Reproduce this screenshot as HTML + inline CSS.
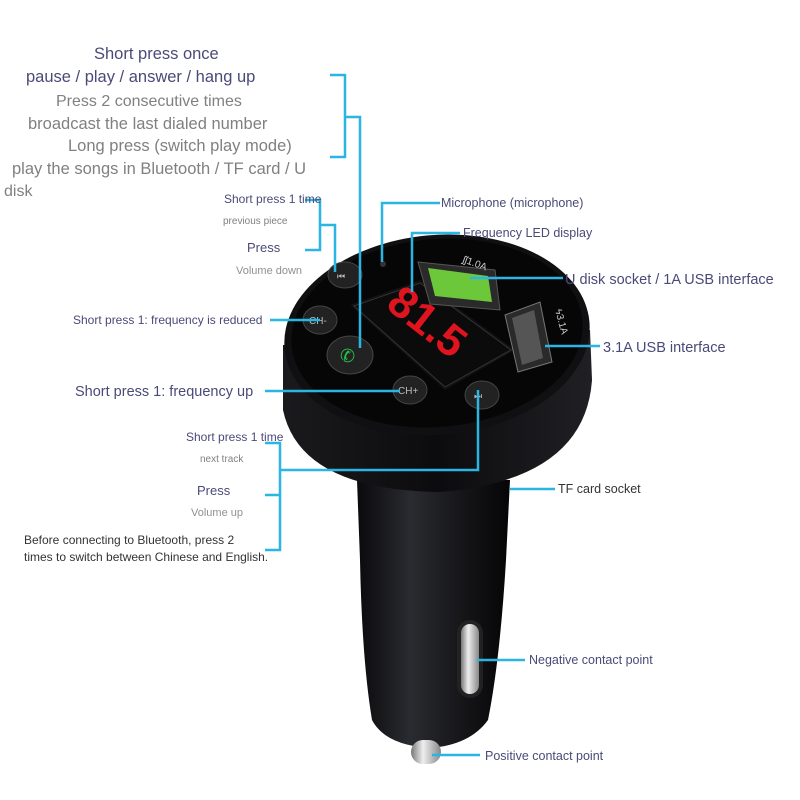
<!DOCTYPE html>
<html><head><meta charset="utf-8"><style>
html,body{margin:0;padding:0;background:#fff;}
svg{display:block;}
text{font-family:"Liberation Sans",sans-serif;}
</style></head><body>
<svg width="800" height="800" viewBox="0 0 800 800" xmlns="http://www.w3.org/2000/svg">
<defs>
<linearGradient id="body" x1="0" x2="1" y1="0" y2="0">
<stop offset="0" stop-color="#0a0a0c"/><stop offset="0.35" stop-color="#2a2b30"/><stop offset="0.7" stop-color="#151518"/><stop offset="1" stop-color="#050506"/>
</linearGradient>
<linearGradient id="cyl" x1="0" x2="1" y1="0" y2="0">
<stop offset="0" stop-color="#1a1a1d"/><stop offset="0.5" stop-color="#0c0c0e"/><stop offset="1" stop-color="#202024"/>
</linearGradient>
<linearGradient id="metal" x1="0" x2="1"><stop offset="0" stop-color="#777"/><stop offset="0.4" stop-color="#eee"/><stop offset="1" stop-color="#888"/></linearGradient>
</defs>
<path d="M357 480 L510 480 L506 560 Q500 660 488 720 Q470 745 430 748 Q385 745 372 720 Q362 660 360 560 Z" fill="url(#body)"/>
<rect x="411" y="740" width="30" height="24" rx="12" fill="url(#metal)"/>
<rect x="457" y="620" width="26" height="78" rx="13" fill="#222"/>
<rect x="461" y="624" width="18" height="70" rx="9" fill="url(#metal)"/>
<path d="M283 345 L283 410 Q300 490 440 492 Q585 480 592 380 L590 330 Z" fill="url(#cyl)"/>
<ellipse cx="437" cy="335" rx="153" ry="100" transform="rotate(-5 437 335)" fill="#101012"/>
<ellipse cx="437" cy="333" rx="146" ry="94" transform="rotate(-5 437 333)" fill="#060607"/>
<polygon points="350,305 420,280 515,350 445,390" fill="#111"/>
<polygon points="354,306 420,283 511,350 445,387" fill="#0b0b0c" stroke="#333" stroke-width="1"/>
<text x="380" y="340" fill="#e0141e" font-size="44" font-family="Liberation Mono" font-weight="bold" transform="rotate(38 430 330)">81.5</text>
<polygon points="418,262 495,270 500,310 430,304" fill="#2a2a2a" stroke="#555"/>
<polygon points="428,268 488,276 492,302 435,296" fill="#6cc83a"/>
<polygon points="505,315 540,302 552,362 518,372" fill="#2a2a2a" stroke="#777"/>
<polygon points="512,318 534,310 543,358 522,365" fill="#555"/>
<text x="462" y="262" fill="#ccc" font-size="10" transform="rotate(20 462 262)">ʃʃ1.0A</text>
<text x="555" y="310" fill="#ccc" font-size="10" transform="rotate(75 555 310)">ϟ3.1A</text>
<ellipse cx="345" cy="275" rx="17" ry="13" fill="#222" stroke="#444"/>
<text x="337" y="279" fill="#bbb" font-size="9">⏮</text>
<ellipse cx="320" cy="320" rx="17" ry="14" fill="#222" stroke="#444"/>
<text x="309" y="324" fill="#bbb" font-size="10">CH-</text>
<ellipse cx="350" cy="355" rx="23" ry="19" fill="#222" stroke="#444"/>
<text x="340" y="362" fill="#27c34a" font-size="18">✆</text>
<ellipse cx="410" cy="390" rx="17" ry="14" fill="#222" stroke="#444"/>
<text x="398" y="394" fill="#bbb" font-size="10">CH+</text>
<ellipse cx="482" cy="395" rx="17" ry="14" fill="#222" stroke="#444"/>
<text x="474" y="399" fill="#bbb" font-size="9">⏭</text>
<circle cx="383" cy="264" r="3" fill="#333"/>
<g stroke="#2bb5e3" stroke-width="2.5" fill="none">
<path d="M330 75 H345 V157 H330 M345 117 H360 V348"/>
<path d="M305 200 H320 V250 H305 M320 225 H335 V272"/>
<path d="M440 203 H382 V262"/>
<path d="M460 233 H412 V292"/>
<path d="M470 278 H563"/>
<path d="M545 346 H600"/>
<path d="M270 320 H320"/>
<path d="M265 391 H400"/>
<path d="M265 443 H280 V550 H265 M265 495 H280 M280 470 H478 V390"/>
<path d="M510 489 H555"/>
<path d="M477 660 H525"/>
<path d="M432 755 H480"/>
</g>
<g fill="#4a4a78">
<text x="94" y="59" font-size="16.5">Short press once</text>
<text x="26" y="82" font-size="16.5">pause / play / answer / hang up</text>
<text x="56" y="106" font-size="16" fill="#808080">Press 2 consecutive times</text>
<text x="28" y="129" font-size="16.5" fill="#808080">broadcast the last dialed number</text>
<text x="68" y="151" font-size="16.5" fill="#808080">Long press (switch play mode)</text>
<text x="12" y="174" font-size="16.5" fill="#808080">play the songs in Bluetooth / TF card / U</text>
<text x="4" y="196" font-size="16" fill="#808080">disk</text>
<text x="224" y="203" font-size="12">Short press 1 time</text>
<text x="223" y="224" font-size="10" fill="#808080">previous piece</text>
<text x="247" y="252" font-size="13">Press</text>
<text x="236" y="274" font-size="11" fill="#909090">Volume down</text>
<text x="73" y="324" font-size="12">Short press 1: frequency is reduced</text>
<text x="75" y="396" font-size="14.5">Short press 1: frequency up</text>
<text x="186" y="441" font-size="12">Short press 1 time</text>
<text x="200" y="462" font-size="10" fill="#808080">next track</text>
<text x="197" y="495" font-size="13">Press</text>
<text x="191" y="516" font-size="11" fill="#909090">Volume up</text>
<text x="24" y="544" font-size="12" fill="#333">Before connecting to Bluetooth, press 2</text>
<text x="24" y="561" font-size="12" fill="#333">times to switch between Chinese and English.</text>
<text x="441" y="207" font-size="12.5">Microphone (microphone)</text>
<text x="463" y="237" font-size="12.5">Frequency LED display</text>
<text x="565" y="284" font-size="14.5">U disk socket / 1A USB interface</text>
<text x="603" y="352" font-size="14.5">3.1A USB interface</text>
<text x="558" y="493" font-size="12.5" fill="#333">TF card socket</text>
<text x="529" y="664" font-size="12.5">Negative contact point</text>
<text x="485" y="760" font-size="12.5">Positive contact point</text>
</g>
</svg>
</body></html>
